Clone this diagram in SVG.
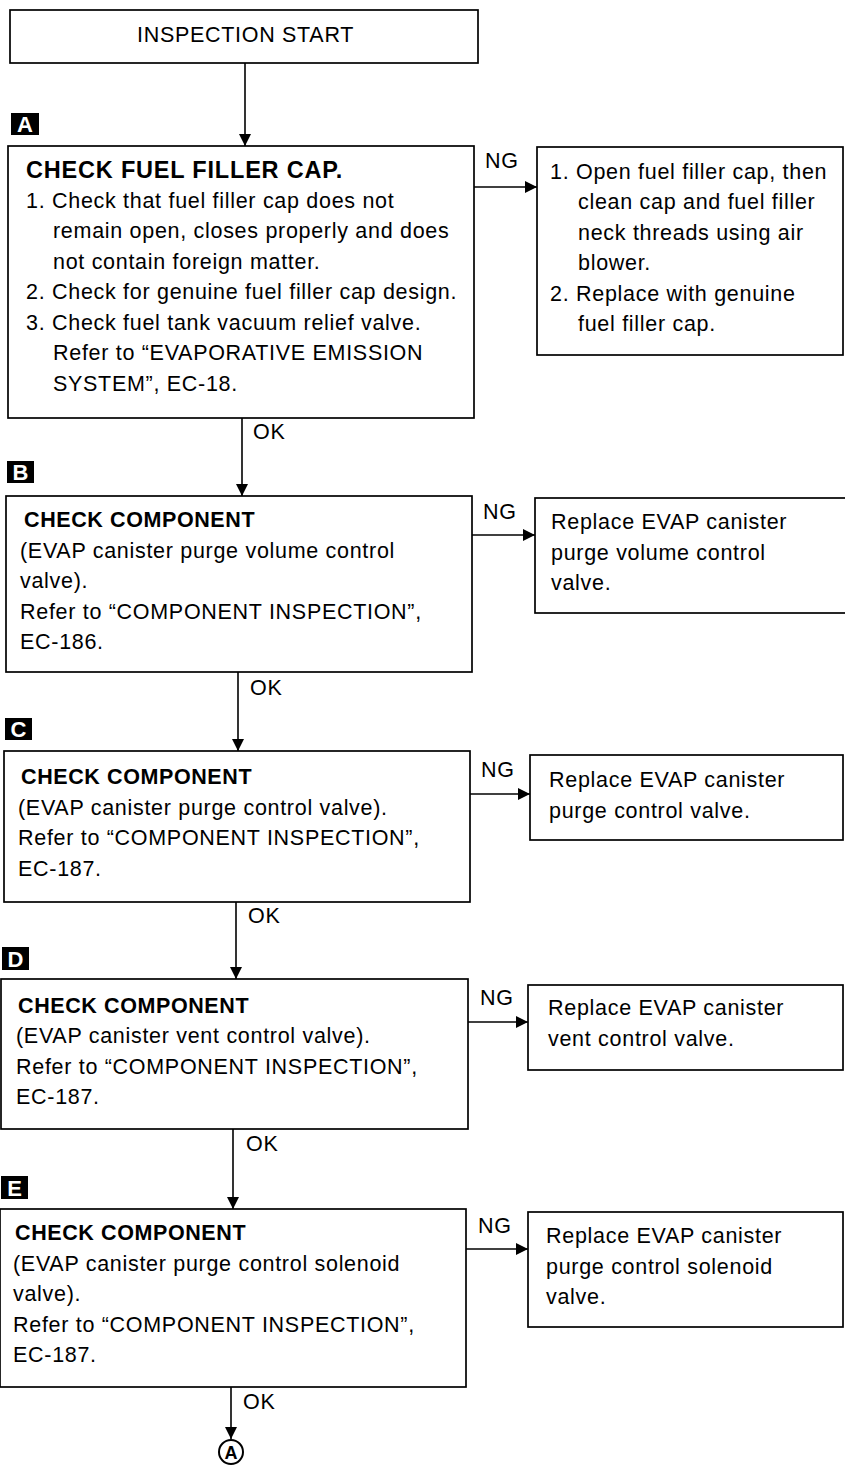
<svg xmlns="http://www.w3.org/2000/svg" width="845" height="1467" viewBox="0 0 845 1467">
<style>
text{font-family:"Liberation Sans",Arial,Helvetica,sans-serif;font-size:21.5px;fill:#000;letter-spacing:0.7px}
.b{font-weight:bold;letter-spacing:0.6px}
.h{font-size:23.5px;letter-spacing:0.8px}
.box{fill:#fff;stroke:#000;stroke-width:1.7}
.ln{fill:none;stroke:#000;stroke-width:1.6}
.tag{fill:#000}
.tagt{fill:#fff;font-weight:bold;font-size:22px;letter-spacing:0}
</style>
<defs>
<marker id="ah" markerUnits="userSpaceOnUse" markerWidth="13" markerHeight="13" refX="12" refY="6" orient="auto">
<path d="M0,0 L12,6 L0,12 z" fill="#000"/>
</marker>
</defs>
<rect width="845" height="1467" fill="#fff"/>

<g id="connectors">
<line class="ln" x1="245" y1="63" x2="245" y2="146" marker-end="url(#ah)"/>
<line class="ln" x1="474" y1="187" x2="537" y2="187" marker-end="url(#ah)"/>
<text x="485" y="168">NG</text>
<line class="ln" x1="242" y1="418" x2="242" y2="496" marker-end="url(#ah)"/>
<text x="253" y="439">OK</text>
<line class="ln" x1="472" y1="535" x2="535" y2="535" marker-end="url(#ah)"/>
<text x="483" y="519">NG</text>
<line class="ln" x1="238" y1="672" x2="238" y2="751" marker-end="url(#ah)"/>
<text x="250" y="695">OK</text>
<line class="ln" x1="470" y1="794" x2="530" y2="794" marker-end="url(#ah)"/>
<text x="481" y="777">NG</text>
<line class="ln" x1="236" y1="902" x2="236" y2="979" marker-end="url(#ah)"/>
<text x="248" y="923">OK</text>
<line class="ln" x1="468" y1="1022" x2="528" y2="1022" marker-end="url(#ah)"/>
<text x="480" y="1005">NG</text>
<line class="ln" x1="233" y1="1129" x2="233" y2="1209" marker-end="url(#ah)"/>
<text x="246" y="1151">OK</text>
<line class="ln" x1="466" y1="1249" x2="528" y2="1249" marker-end="url(#ah)"/>
<text x="478" y="1233">NG</text>
<line class="ln" x1="231" y1="1387" x2="231" y2="1439" marker-end="url(#ah)"/>
<text x="243" y="1409">OK</text>
</g>

<g id="start">
<rect class="box" x="10" y="10" width="468" height="53"/>
<text x="137" y="42">INSPECTION START</text>
</g>

<g id="tag-a"><rect class="tag" x="11" y="113" width="28" height="22"/><text class="tagt" x="25" y="132" text-anchor="middle">A</text></g>
<g id="tag-b"><rect class="tag" x="7" y="461" width="27" height="22"/><text class="tagt" x="20.5" y="480" text-anchor="middle">B</text></g>
<g id="tag-c"><rect class="tag" x="5" y="718" width="27" height="22"/><text class="tagt" x="18.5" y="737" text-anchor="middle">C</text></g>
<g id="tag-d"><rect class="tag" x="2" y="947" width="27" height="23"/><text class="tagt" x="15.5" y="966.5" text-anchor="middle">D</text></g>
<g id="tag-e"><rect class="tag" x="1" y="1176" width="27" height="23"/><text class="tagt" x="14.5" y="1195.5" text-anchor="middle">E</text></g>

<g id="node-a">
<rect class="box" x="8" y="146" width="466" height="272"/>
<text class="b h" x="26" y="178">CHECK FUEL FILLER CAP.</text>
<text x="26" y="207.5">1. Check that fuel filler cap does not</text>
<text x="53" y="238">remain open, closes properly and does</text>
<text x="53" y="268.5">not contain foreign matter.</text>
<text x="26" y="299">2. Check for genuine fuel filler cap design.</text>
<text x="26" y="329.5">3. Check fuel tank vacuum relief valve.</text>
<text x="53" y="360">Refer to “EVAPORATIVE EMISSION</text>
<text x="53" y="390.5">SYSTEM”, EC-18.</text>
</g>

<g id="node-a-ng">
<rect class="box" x="537" y="147" width="306" height="208"/>
<text x="550" y="178.5">1. Open fuel filler cap, then</text>
<text x="578" y="209">clean cap and fuel filler</text>
<text x="578" y="239.5">neck threads using air</text>
<text x="578" y="270">blower.</text>
<text x="550" y="300.5">2. Replace with genuine</text>
<text x="578" y="331">fuel filler cap.</text>
</g>

<g id="node-b">
<rect class="box" x="6" y="496" width="466" height="176"/>
<text class="b" x="24" y="527">CHECK COMPONENT</text>
<text x="20" y="557.5">(EVAP canister purge volume control</text>
<text x="20" y="588">valve).</text>
<text x="20" y="618.5">Refer to “COMPONENT INSPECTION”,</text>
<text x="20" y="649">EC-186.</text>
</g>

<g id="node-b-ng">
<rect class="box" x="535" y="498" width="311" height="115"/>
<text x="551" y="529">Replace EVAP canister</text>
<text x="551" y="559.5">purge volume control</text>
<text x="551" y="590">valve.</text>
</g>

<g id="node-c">
<rect class="box" x="4" y="751" width="466" height="151"/>
<text class="b" x="21" y="784">CHECK COMPONENT</text>
<text x="18" y="814.5">(EVAP canister purge control valve).</text>
<text x="18" y="845">Refer to “COMPONENT INSPECTION”,</text>
<text x="18" y="875.5">EC-187.</text>
</g>

<g id="node-c-ng">
<rect class="box" x="530" y="755" width="313" height="85"/>
<text x="549" y="787">Replace EVAP canister</text>
<text x="549" y="817.5">purge control valve.</text>
</g>

<g id="node-d">
<rect class="box" x="1" y="979" width="467" height="150"/>
<text class="b" x="18" y="1012.5">CHECK COMPONENT</text>
<text x="16" y="1043">(EVAP canister vent control valve).</text>
<text x="16" y="1073.5">Refer to “COMPONENT INSPECTION”,</text>
<text x="16" y="1104">EC-187.</text>
</g>

<g id="node-d-ng">
<rect class="box" x="528" y="985" width="315" height="85"/>
<text x="548" y="1015">Replace EVAP canister</text>
<text x="548" y="1045.5">vent control valve.</text>
</g>

<g id="node-e">
<rect class="box" x="0" y="1209" width="466" height="178"/>
<text class="b" x="15" y="1240">CHECK COMPONENT</text>
<text x="13" y="1270.5">(EVAP canister purge control solenoid</text>
<text x="13" y="1301">valve).</text>
<text x="13" y="1331.5">Refer to “COMPONENT INSPECTION”,</text>
<text x="13" y="1362">EC-187.</text>
</g>

<g id="node-e-ng">
<rect class="box" x="528" y="1212" width="315" height="115"/>
<text x="546" y="1243">Replace EVAP canister</text>
<text x="546" y="1273.5">purge control solenoid</text>
<text x="546" y="1304">valve.</text>
</g>

<g id="end-a">
<circle cx="231" cy="1452" r="12" fill="#fff" stroke="#000" stroke-width="2"/>
<text class="b" x="231" y="1459" text-anchor="middle" style="font-size:18px;letter-spacing:0">A</text>
</g>
</svg>
